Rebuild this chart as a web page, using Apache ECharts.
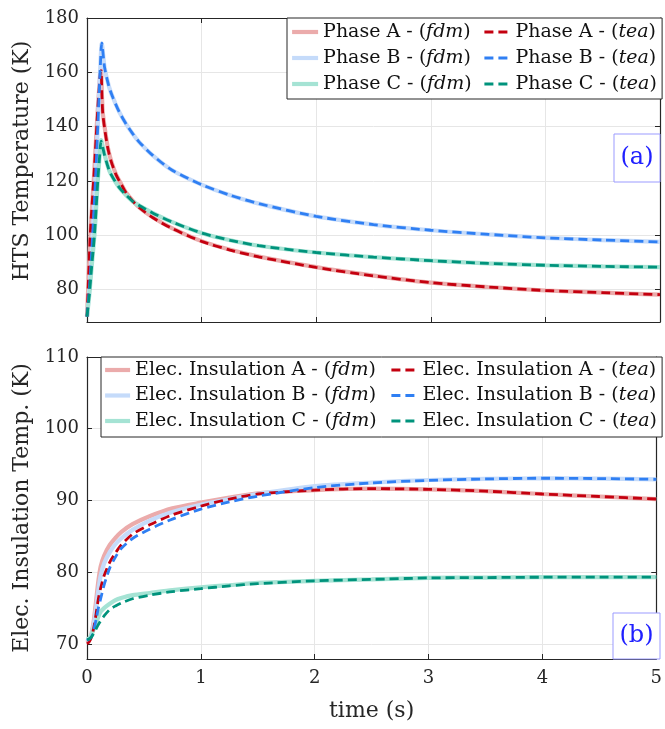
<!DOCTYPE html>
<html><head><meta charset="utf-8">
<script src="https://cdn.jsdelivr.net/npm/echarts@6/dist/echarts.min.js"></script>
<style>html,body{margin:0;padding:0;background:#fff}#c{width:665px;height:729px}</style>
</head><body><div id="c"></div>
<script>
// ---------- data ----------
const xTicks = [0, 1, 2, 3, 4, 5];
const yTicksTop = [80, 100, 120, 140, 160, 180];
const yTicksBot = [70, 80, 90, 100, 110];

const tA = [0, 0.01, 0.03, 0.06, 0.085, 0.1, 0.117, 0.123, 0.13, 0.138, 0.16, 0.182, 0.21, 0.254, 0.3, 0.342, 0.4, 0.46, 0.576, 0.74, 1.0, 1.25, 1.5, 2.0, 2.5, 3.0, 3.5, 4.0, 4.5, 5.0];
const phaseA_fdm = [70, 80, 101, 121, 140, 150, 160, 161, 152, 145, 138, 132.2, 127.5, 122.3, 118.7, 115.6, 112.6, 110, 106.5, 102.6, 97.8, 94.6, 92.1, 88.2, 85.1, 82.5, 80.9, 79.6, 78.8, 78.1];
const phaseA_tea = [70, 80.5, 101.5, 121.5, 140, 150.5, 160, 160.6, 151.5, 144.6, 137.5, 132, 127.3, 122.2, 118.6, 115.5, 112.5, 110, 106.4, 102.5, 97.7, 94.5, 92.0, 88.1, 85.0, 82.5, 80.9, 79.6, 78.8, 78.1];

const tB = [0, 0.02, 0.04, 0.06, 0.08, 0.1, 0.114, 0.129, 0.153, 0.19, 0.226, 0.28, 0.342, 0.4, 0.46, 0.576, 0.74, 1.0, 1.25, 1.5, 2.0, 2.5, 3.0, 3.5, 4.0, 4.5, 5.0];
const phaseB_fdm = [70, 80, 93, 109, 126, 146, 160, 170.7, 161.9, 155, 150.7, 145.5, 140.9, 137.3, 134.1, 129.3, 124.0, 118.6, 114.7, 111.6, 106.9, 103.9, 101.8, 100.3, 99.0, 98.2, 97.5];
const phaseB_tea = [70, 80, 93, 109, 126, 146, 160, 170.7, 161.9, 155, 150.7, 145.5, 140.9, 137.3, 134.1, 129.3, 124.0, 118.6, 114.7, 111.6, 106.9, 103.9, 101.8, 100.3, 99.0, 98.2, 97.5];

const tC = [0, 0.02, 0.04, 0.065, 0.08, 0.094, 0.11, 0.123, 0.153, 0.196, 0.24, 0.284, 0.34, 0.4, 0.46, 0.576, 0.74, 1.0, 1.25, 1.5, 2.0, 2.5, 3.0, 3.5, 4.0, 4.5, 5.0];
const phaseC_fdm = [70, 78, 88, 100, 110, 120, 129, 135, 129.7, 123.6, 120.2, 117.4, 114.8, 112.4, 110.8, 108.1, 104.9, 100.8, 98.1, 96.1, 93.6, 91.9, 90.6, 89.6, 88.9, 88.5, 88.2];
const phaseC_tea = [70, 78, 88, 100, 110, 120, 129, 134.6, 129.5, 123.6, 120.2, 117.4, 114.8, 112.4, 110.8, 108.1, 104.9, 100.8, 98.1, 96.1, 93.6, 91.9, 90.6, 89.6, 88.9, 88.5, 88.2];

const tIns = [0, 0.02, 0.04, 0.06, 0.08, 0.1, 0.12, 0.15, 0.2, 0.25, 0.3, 0.4, 0.55, 0.75, 1.0, 1.25, 1.5, 2.0, 2.5, 3.0, 3.5, 4.0, 4.5, 5.0];
const insA_fdm = [70.2, 70.6, 71.5, 73.3, 76.0, 78.8, 80.8, 82.3, 83.8, 84.8, 85.6, 86.7, 87.8, 88.9, 89.7, 90.4, 91.0, 91.45, 91.65, 91.55, 91.3, 90.9, 90.55, 90.2];
const insA_tea = [70.0, 70.3, 71.0, 72.3, 74.2, 76.3, 77.8, 79.5, 81.4, 82.7, 83.8, 85.3, 86.6, 88.0, 89.2, 90.2, 90.9, 91.45, 91.65, 91.55, 91.3, 90.9, 90.55, 90.2];
const insB_fdm = [70.4, 70.7, 71.3, 72.8, 75.0, 77.5, 79.5, 81.2, 82.8, 83.9, 84.7, 85.9, 87.2, 88.4, 89.4, 90.2, 90.9, 92.0, 92.5, 92.85, 93.0, 93.1, 93.05, 92.95];
const insB_tea = [70.5, 70.7, 71.0, 72.0, 73.4, 75.0, 76.3, 78.2, 80.6, 82.1, 83.3, 84.7, 86.0, 87.4, 88.8, 89.8, 90.6, 91.8, 92.45, 92.8, 93.0, 93.1, 93.05, 92.95];
const insC_fdm = [70.6, 70.8, 71.3, 72.1, 72.9, 73.8, 74.5, 75.0, 75.6, 76.1, 76.4, 76.8, 77.1, 77.5, 77.9, 78.2, 78.5, 78.8, 79.0, 79.2, 79.25, 79.3, 79.3, 79.3];
const insC_tea = [70.6, 70.7, 71.0, 71.5, 72.1, 72.7, 73.2, 73.9, 74.8, 75.3, 75.7, 76.3, 76.8, 77.3, 77.7, 78.1, 78.4, 78.8, 79.0, 79.2, 79.25, 79.3, 79.3, 79.3];

const topNamesFdm = ['Phase A - (fdm)', 'Phase B - (fdm)', 'Phase C - (fdm)'];
const topNamesTea = ['Phase A - (tea)', 'Phase B - (tea)', 'Phase C - (tea)'];
const botNamesFdm = ['Elec. Insulation A - (fdm)', 'Elec. Insulation B - (fdm)', 'Elec. Insulation C - (fdm)'];
const botNamesTea = ['Elec. Insulation A - (tea)', 'Elec. Insulation B - (tea)', 'Elec. Insulation C - (tea)'];

// ---------- style ----------
const FONT = 'DejaVu Serif';
const INK = '#262626';
const GRIDC = '#e6e6e6';
const colFdm = ['#ebabab', '#c5dbfa', '#a5e3d4'];
const colTea = ['#c4000f', '#2f7ff3', '#00937c'];

const zip = (t, y) => t.map((v, i) => [v, y[i]]);

function xAx(grid, pos, labels) {
  return {
    type: 'value', gridIndex: grid, min: 0, max: 5, interval: 1, position: pos,
    axisLine: { show: true, onZero: false, lineStyle: { color: INK, width: 1.2 } },
    axisTick: { show: true, inside: true, length: 5, lineStyle: { color: INK, width: 1 } },
    axisLabel: { show: labels, margin: 10, color: INK, fontFamily: FONT, fontSize: 18 },
    splitLine: { show: pos === 'bottom', lineStyle: { color: GRIDC, width: 1 } },
    name: labels ? 'time (s)' : '', nameLocation: 'middle', nameGap: 41,
    nameTextStyle: { color: INK, fontFamily: FONT, fontSize: 22 }
  };
}
function yAx(grid, pos, min, max, ticks, name, namePad) {
  return {
    type: 'value', gridIndex: grid, min: min, max: max, position: pos,
    axisLine: { show: true, onZero: false, lineStyle: { color: INK, width: 1.2 } },
    axisTick: { show: true, inside: true, length: 5, customValues: ticks, lineStyle: { color: INK, width: 1 } },
    axisLabel: { show: pos === 'left', customValues: ticks, margin: 8, color: INK, fontFamily: FONT, fontSize: 18 },
    splitLine: { show: pos === 'left', lineStyle: { color: GRIDC, width: 1 } },
    name: pos === 'left' ? name : '', nameLocation: 'middle', nameGap: 50,
    nameTextStyle: { color: INK, fontFamily: FONT, fontSize: 22, padding: namePad || 0 }
  };
}

function fmt(n) { return n.replace('(fdm)', '({i|fdm})').replace('(tea)', '({i|tea})'); }
function legendText(w) {
  return {
    color: '#111', fontFamily: FONT, fontSize: 19, lineHeight: 20, width: w, overflow: 'none',
    rich: { i: { fontFamily: FONT, fontSize: 19, fontStyle: 'italic', color: '#111', lineHeight: 20 } }
  };
}

const series = [];
function addLine(name, t, y, color, dashed, xi, yi) {
  series.push({
    name: name, type: 'line', xAxisIndex: xi, yAxisIndex: yi,
    data: zip(t, y), symbol: 'none', showSymbol: false, smooth: 0.25,
    lineStyle: dashed ? { color: color, width: 2.8, type: [9, 5] } : { color: color, width: 4.2 },
    itemStyle: { color: color }, z: dashed ? 3 : 2
  });
}
// top: fdm then tea
addLine(topNamesFdm[0], tA, phaseA_fdm, colFdm[0], false, 0, 0);
addLine(topNamesFdm[1], tB, phaseB_fdm, colFdm[1], false, 0, 0);
addLine(topNamesFdm[2], tC, phaseC_fdm, colFdm[2], false, 0, 0);
addLine(topNamesTea[0], tA, phaseA_tea, colTea[0], true, 0, 0);
addLine(topNamesTea[1], tB, phaseB_tea, colTea[1], true, 0, 0);
addLine(topNamesTea[2], tC, phaseC_tea, colTea[2], true, 0, 0);
// bottom
addLine(botNamesFdm[0], tIns, insA_fdm, colFdm[0], false, 2, 2);
addLine(botNamesFdm[1], tIns, insB_fdm, colFdm[1], false, 2, 2);
addLine(botNamesFdm[2], tIns, insC_fdm, colFdm[2], false, 2, 2);
addLine(botNamesTea[0], tIns, insA_tea, colTea[0], true, 2, 2);
addLine(botNamesTea[1], tIns, insB_tea, colTea[1], true, 2, 2);
addLine(botNamesTea[2], tIns, insC_tea, colTea[2], true, 2, 2);

const legBase = { orient: 'vertical', itemHeight: 12, formatter: fmt, selectedMode: false,
  itemStyle: { opacity: 0 }, lineStyle: { width: 'inherit', type: 'inherit', color: 'inherit' } };

const chart = echarts.init(document.getElementById('c'), null, { renderer: 'canvas' });
chart.setOption({
  animation: false,
  backgroundColor: '#fff',
  grid: [
    { left: 87, right: 5, top: 18, height: 304 },
    { left: 87, right: 5, top: 357, height: 302 }
  ],
  xAxis: [xAx(0, 'bottom', false), xAx(0, 'top', false), xAx(1, 'bottom', true), xAx(1, 'top', false)],
  yAxis: [
    yAx(0, 'left', 68, 180, yTicksTop, 'HTS Temperature (K)', [0, 0, 0, 18]),
    yAx(0, 'right', 68, 180, yTicksTop, ''),
    yAx(1, 'left', 67.9, 110, yTicksBot, 'Elec. Insulation Temp. (K)'),
    yAx(1, 'right', 67.9, 110, yTicksBot, '')
  ],
  legend: [
    Object.assign({}, legBase, { data: topNamesFdm, left: 287, top: 18, padding: [4, 181, 5, 3],
      itemWidth: 26, itemGap: 6, textStyle: legendText(158),
      borderColor: INK, borderWidth: 1, backgroundColor: '#fff', z: 10 }),
    Object.assign({}, legBase, { data: topNamesTea, left: 483, top: 22, padding: 0,
      itemWidth: 26, itemGap: 6, textStyle: legendText(140), z: 11 }),
    Object.assign({}, legBase, { data: botNamesFdm, left: 101, top: 357, padding: [3, 277, 6, 2],
      itemWidth: 25, itemGap: 5.5, textStyle: legendText(250),
      borderColor: INK, borderWidth: 1, backgroundColor: '#fff', z: 10 }),
    Object.assign({}, legBase, { data: botNamesTea, left: 390, top: 360, padding: 0,
      itemWidth: 26, itemGap: 5.5, textStyle: legendText(236), z: 11 })
  ],
  graphic: [
    { type: 'rect', shape: { x: 614, y: 134, width: 46, height: 48 }, style: { fill: '#fff', stroke: '#9b9bff', lineWidth: 1 }, z: 100 },
    { type: 'text', x: 637, y: 158, style: { text: '(a)', fill: '#2020ff', font: '24px "DejaVu Serif"', align: 'center', verticalAlign: 'middle' }, z: 101 },
    { type: 'rect', shape: { x: 613, y: 613, width: 47, height: 46 }, style: { fill: '#fff', stroke: '#9b9bff', lineWidth: 1 }, z: 100 },
    { type: 'text', x: 636.5, y: 636, style: { text: '(b)', fill: '#2020ff', font: '24px "DejaVu Serif"', align: 'center', verticalAlign: 'middle' }, z: 101 }
  ],
  series: series
});
</script>
</body></html>
